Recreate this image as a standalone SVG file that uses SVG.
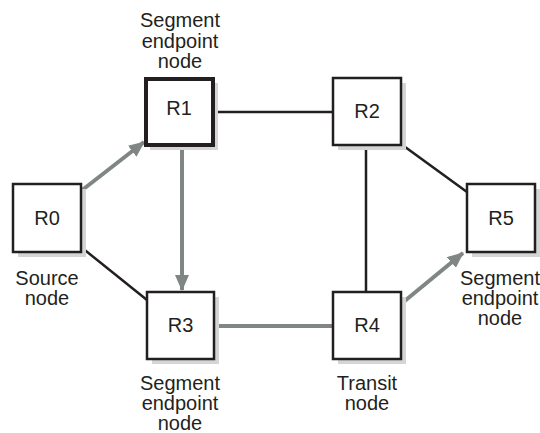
<svg xmlns="http://www.w3.org/2000/svg" width="540" height="433" viewBox="0 0 540 433">
<style>
text{font-family:"Liberation Sans",Arial,sans-serif;font-size:20px;fill:#231f20;text-anchor:middle}
.box{fill:#fff;stroke:#231f20;stroke-width:2.5}
.shadow{fill:#d4d6d5}
.thin{stroke:#231f20;stroke-width:2.5;fill:none}
.path{stroke:#7f8684;stroke-width:4;fill:none}
</style>
<defs>
<marker id="ah" markerUnits="userSpaceOnUse" markerWidth="16" markerHeight="14" refX="15" refY="7" orient="auto">
<path d="M0,0 L16,7 L0,14 Z" fill="#7f8684"/>
</marker>
</defs>
<rect width="540" height="433" fill="#fff"/>
<g id="connectors">
<line class="thin" x1="214" y1="112" x2="333" y2="112"/>
<line class="thin" x1="366" y1="145" x2="366" y2="292"/>
<line class="thin" x1="401" y1="144" x2="467" y2="192"/>
<line class="thin" x1="81" y1="247" x2="147" y2="300"/>
<line class="path" x1="214" y1="326" x2="333" y2="326"/>
<line class="path" x1="81" y1="191" x2="144" y2="142" marker-end="url(#ah)"/>
<line class="path" x1="182" y1="147" x2="182" y2="290" marker-end="url(#ah)"/>
<line class="path" x1="401" y1="304" x2="463" y2="253" marker-end="url(#ah)"/>
</g>
<g id="R0">
<rect class="shadow" x="18" y="189" width="68" height="68"/>
<rect class="box" x="13" y="184" width="68" height="68"/>
<text x="47" y="225">R0</text>
<text x="47" y="284.5">Source</text>
<text x="47" y="304.5">node</text>
</g>
<g id="R1">
<rect class="shadow" x="150" y="83" width="68" height="67"/>
<rect class="box" x="146" y="79" width="67" height="66" style="stroke-width:4"/>
<text x="179" y="115">R1</text>
<text x="180" y="27">Segment</text>
<text x="180" y="47.5">endpoint</text>
<text x="180" y="68">node</text>
</g>
<g id="R2">
<rect class="shadow" x="338" y="83" width="68" height="67"/>
<rect class="box" x="333" y="78" width="68" height="67"/>
<text x="367" y="118">R2</text>
</g>
<g id="R3">
<rect class="shadow" x="152" y="297" width="67" height="67"/>
<rect class="box" x="147" y="292" width="67" height="67"/>
<text x="180.5" y="332">R3</text>
<text x="180" y="390">Segment</text>
<text x="180" y="410">endpoint</text>
<text x="180" y="429.5">node</text>
</g>
<g id="R4">
<rect class="shadow" x="338" y="297" width="68" height="67"/>
<rect class="box" x="333" y="292" width="68" height="67"/>
<text x="367" y="332">R4</text>
<text x="367" y="390">Transit</text>
<text x="367" y="410">node</text>
</g>
<g id="R5">
<rect class="shadow" x="472" y="189" width="68" height="68"/>
<rect class="box" x="467" y="184" width="68" height="68"/>
<text x="501" y="225">R5</text>
<text x="500" y="285">Segment</text>
<text x="500" y="305">endpoint</text>
<text x="500" y="325">node</text>
</g>
</svg>
